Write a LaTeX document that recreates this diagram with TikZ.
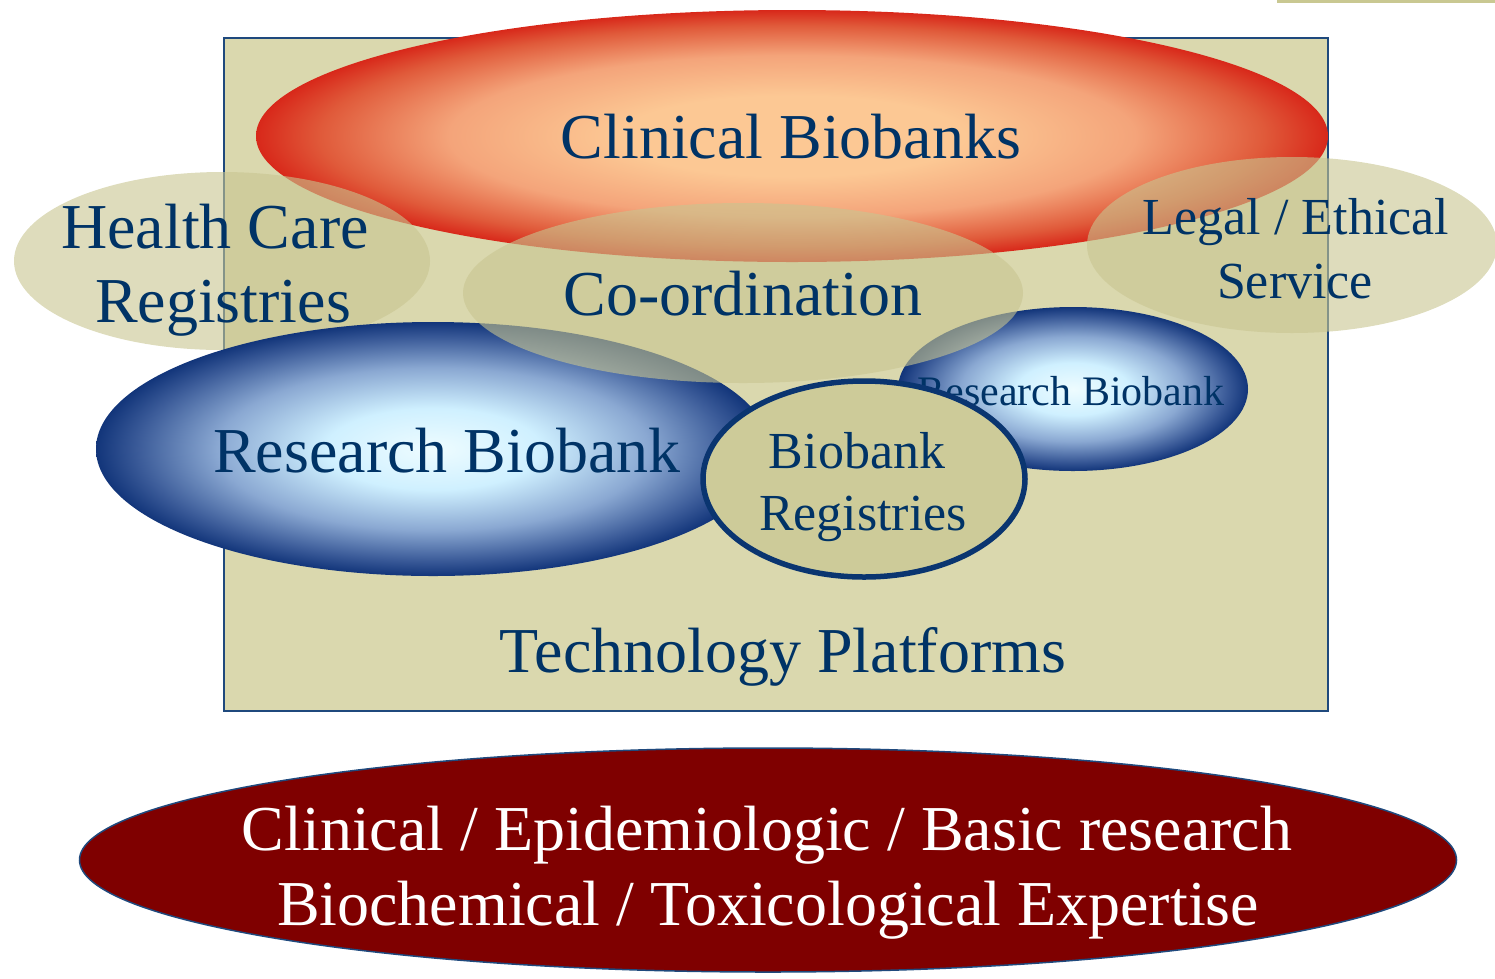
\documentclass[tikz,border=0pt]{standalone}
\usepackage{fontspec}
\setmainfont{Liberation Serif}
\usetikzlibrary{shapes.geometric}
\definecolor{navy}{HTML}{003366}
\definecolor{frameblue}{HTML}{1F497D}
\definecolor{rectbeige}{HTML}{DAD8AE}
\definecolor{ellbeige}{HTML}{C8C590}
\definecolor{regbeige}{HTML}{CDCB99}
\definecolor{regline}{HTML}{0A3570}
\definecolor{darkred}{HTML}{7F0000}
\definecolor{topline}{HTML}{C9C892}
\definecolor{redA}{HTML}{FCC894}
\definecolor{redB}{HTML}{F4A47A}
\definecolor{redC}{HTML}{E05A3A}
\definecolor{redD}{HTML}{D8281A}
\definecolor{blueA}{HTML}{EEFCFF}
\definecolor{blueB}{HTML}{CFF0FF}
\definecolor{blueC}{HTML}{8AA8D2}
\definecolor{blueD}{HTML}{3A5A98}
\definecolor{blueE}{HTML}{12357A}
\pgfdeclareradialshading{redsh}{\pgfpoint{0bp}{0bp}}{color(0bp)=(redA); color(8bp)=(redA); color(16bp)=(redB); color(22bp)=(redC); color(25bp)=(redD); color(50bp)=(redD)}
\pgfdeclareradialshading{bluesh}{\pgfpoint{0bp}{0bp}}{color(0bp)=(blueA); color(8bp)=(blueB); color(16bp)=(blueC); color(22bp)=(blueD); color(25bp)=(blueE); color(50bp)=(blueE)}
\tikzset{
  blob/.style={ellipse, inner sep=0pt, outer sep=0pt},
  beigeblob/.style={blob, fill=ellbeige, fill opacity=0.6},
  bigtxt/.style={font=\fontsize{64}{74}\selectfont, text=navy, inner sep=0pt, anchor=base},
  midtxt/.style={font=\fontsize{52}{62}\selectfont, text=navy, inner sep=0pt, anchor=base},
  smalltxt/.style={font=\fontsize{42}{50}\selectfont, text=navy, inner sep=0pt, anchor=base},
  whitetxt/.style={font=\fontsize{64}{74}\selectfont, text=white, inner sep=0pt, anchor=base}
}
\begin{document}
\begin{tikzpicture}[x=1pt, y=-1pt]
\useasboundingbox (0,0) rectangle (1495,978);
% top right rule
\coordinate (tl1) at (1277,1.5);
\coordinate (tl2) at (1495,1.5);
\draw[topline, line width=3pt] (tl1) -- (tl2);
% frame
\node[draw=frameblue, line width=2pt, fill=rectbeige, minimum width=1104pt, minimum height=673pt, inner sep=0pt] (frame) at (776,374.5) {};
% clinical biobanks
\node[blob, shading=redsh, minimum width=1072pt, minimum height=252pt] (clin) at (792,136) {};
% health care & legal
\node[beigeblob, minimum width=416pt, minimum height=178pt] (hc) at (222,261) {};
\node[beigeblob, minimum width=410pt, minimum height=176pt] (legal) at (1292,245) {};
% research biobanks
\node[blob, shading=bluesh, minimum width=674pt, minimum height=254pt] (rb) at (433,449) {};
\node[blob, shading=bluesh, minimum width=350pt, minimum height=164pt] (rbs) at (1073,389) {};
% coordination
\node[beigeblob, minimum width=560pt, minimum height=180pt] (coord) at (743,293) {};
% small research biobank text (behind registries)
\node[smalltxt] (rbst) at (1071,405) {Research Biobank};
% biobank registries
\node[blob, fill=regbeige, draw=regline, line width=5.5pt, minimum width=322pt, minimum height=196pt] (breg) at (864,479) {};
% bottom ellipse
\node[blob, fill=darkred, draw=frameblue, line width=1.5pt, minimum width=1377pt, minimum height=224pt] (bottom) at (768,860) {};
% texts
\node[bigtxt] (clint) at (791,158) {Clinical Biobanks};
\node[bigtxt] (hct1) at (215,248) {Health Care};
\node[bigtxt] (hct2) at (223,322) {Registries};
\node[bigtxt] (coordt) at (743,315) {Co-ordination};
\node[midtxt] (legt1) at (1296,234) {Legal / Ethical};
\node[midtxt] (legt2) at (1295,298) {Service};
\node[bigtxt] (rbt) at (447,472) {Research Biobank};
\node[midtxt] (bregt1) at (857,468) {Biobank};
\node[midtxt] (bregt2) at (863,530) {Registries};
\node[bigtxt] (techt) at (783,672) {Technology Platforms};
\node[whitetxt] (bot1) at (767,850) {Clinical / Epidemiologic / Basic research};
\node[whitetxt] (bot2) at (768,925) {Biochemical / Toxicological Expertise};
\end{tikzpicture}
\end{document}
